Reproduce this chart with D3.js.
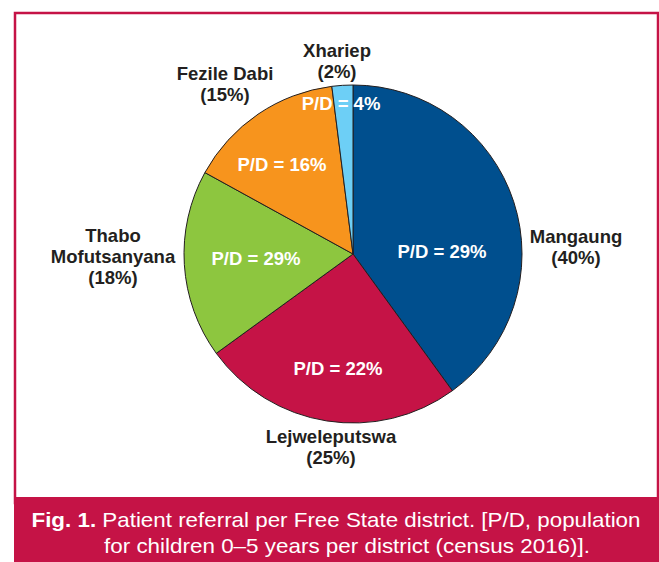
<!DOCTYPE html>
<html>
<head>
<meta charset="utf-8">
<script src="https://cdn.jsdelivr.net/npm/d3@7"></script>
<style>
  body { margin: 0; background: #fff; }
  svg { display: block; }
  .name { font-family: "Liberation Sans", Arial, sans-serif; font-weight: bold; font-size: 18.5px; fill: #231f20; }
  .pd { font-family: "Liberation Sans", Arial, sans-serif; font-weight: bold; font-size: 18.5px; fill: #fff; }
  .caption { font-family: "Liberation Sans", Arial, sans-serif; font-size: 21px; fill: #fff; }
</style>
</head>
<body>
<div id="chart"></div>
<script>
// data
var districts = ["Mangaung", "Lejweleputswa", "Thabo Mofutsanyana", "Fezile Dabi", "Xhariep"];
var referralPct = [40, 25, 18, 15, 2];
var pdPct = [29, 22, 29, 16, 4];
var colors = ["#004f8e", "#c51346", "#8dc63f", "#f7941d", "#6dcff6"];

var width = 659, height = 562;
var cx = 353, cy = 254, radius = 169;

var svg = d3.select("#chart")
    .append("svg")
        .attr("width", width)
        .attr("height", height);

// frame + caption band
svg.append("rect")
    .attr("x", 15).attr("y", 13)
    .attr("width", 643).attr("height", 490)
    .attr("fill", "none")
    .attr("stroke", "#c51346")
    .attr("stroke-width", 2.5);

svg.append("rect")
    .attr("x", 14).attr("y", 497)
    .attr("width", 645).attr("height", 65)
    .attr("fill", "#c51346");

var g = svg.append("g")
    .attr("transform", "translate(" + cx + "," + cy + ")");

var pie = d3.pie().sort(null).value(function(d) { return d; });
var arc = d3.arc().innerRadius(0).outerRadius(radius);

var arcs = pie(referralPct);

g.selectAll("path")
    .data(arcs)
    .enter().append("path")
        .attr("d", arc)
        .attr("fill", function(d, i) { return colors[i]; })
        .attr("stroke", "#231f20")
        .attr("stroke-width", 1);

// label placement (offsets from pie centre), hand tuned like the original
var nameLines = [["Mangaung"], ["Lejweleputswa"], ["Thabo", "Mofutsanyana"], ["Fezile Dabi"], ["Xhariep"]];
var nameOffset = [[223, -11], [-22, 189], [-240, -12], [-128, -174], [-16, -197]];
var pdOffset = [[89, 4], [-15, 121], [-97, 11], [-71, -83], [-12, -144]];
var lineH = 21;

districts.forEach(function(name, i) {
    var t = g.append("text")
        .attr("class", "name")
        .attr("text-anchor", "middle")
        .attr("x", nameOffset[i][0])
        .attr("y", nameOffset[i][1]);
    var lines = nameLines[i].concat(["(" + referralPct[i] + "%)"]);
    lines.forEach(function(l, j) {
        t.append("tspan")
            .attr("x", nameOffset[i][0])
            .attr("dy", j === 0 ? 0 : lineH)
            .text(l);
    });

    g.append("text")
        .attr("class", "pd")
        .attr("text-anchor", "middle")
        .attr("x", pdOffset[i][0])
        .attr("y", pdOffset[i][1])
        .text("P/D = " + pdPct[i] + "%");
});

// caption
var cap1 = svg.append("text")
    .attr("class", "caption")
    .attr("text-anchor", "middle")
    .attr("x", 336).attr("y", 527)
    .attr("textLength", 609)
    .attr("lengthAdjust", "spacingAndGlyphs");
cap1.append("tspan").attr("font-weight", "bold").text("Fig. 1.");
cap1.append("tspan").text(" Patient referral per Free State district. [P/D, population");

svg.append("text")
    .attr("class", "caption")
    .attr("text-anchor", "middle")
    .attr("x", 347).attr("y", 553)
    .attr("textLength", 486)
    .attr("lengthAdjust", "spacingAndGlyphs")
    .text("for children 0\u20135 years per district (census 2016)].");
</script>
</body>
</html>
